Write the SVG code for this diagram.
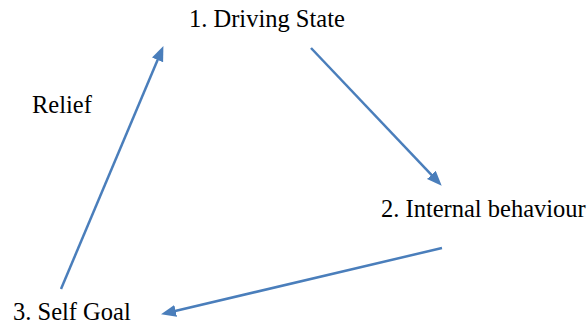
<svg xmlns="http://www.w3.org/2000/svg" width="588" height="326" viewBox="0 0 588 326">
<style>
text{font-family:"Liberation Serif","Times New Roman",serif;font-size:24.5px;fill:#000}
.c{stroke:#4a7ebb;stroke-width:2.5;fill:none}
</style>
<defs>
<marker id="ah" markerUnits="userSpaceOnUse" markerWidth="16" markerHeight="13" refX="6" refY="6" orient="auto">
<path d="M0,0 L15,6 L0,12 Z" fill="#4a7ebb"/>
</marker>
</defs>
<rect width="588" height="326" fill="#fff"/>
<g id="connectors">
<line class="c" x1="311" y1="48" x2="435.5" y2="179.2" marker-end="url(#ah)"/>
<line class="c" x1="442" y1="248" x2="169.8" y2="312.2" marker-end="url(#ah)"/>
<line class="c" x1="61" y1="289" x2="159.9" y2="54.4" marker-end="url(#ah)"/>
</g>
<g id="node1"><text x="189" y="27">1. Driving State</text></g>
<g id="node2"><text x="381" y="217">2. Internal behaviour</text></g>
<g id="node3"><text x="13" y="320">3. Self Goal</text></g>
<g id="label-relief"><text x="32" y="113">Relief</text></g>
</svg>
